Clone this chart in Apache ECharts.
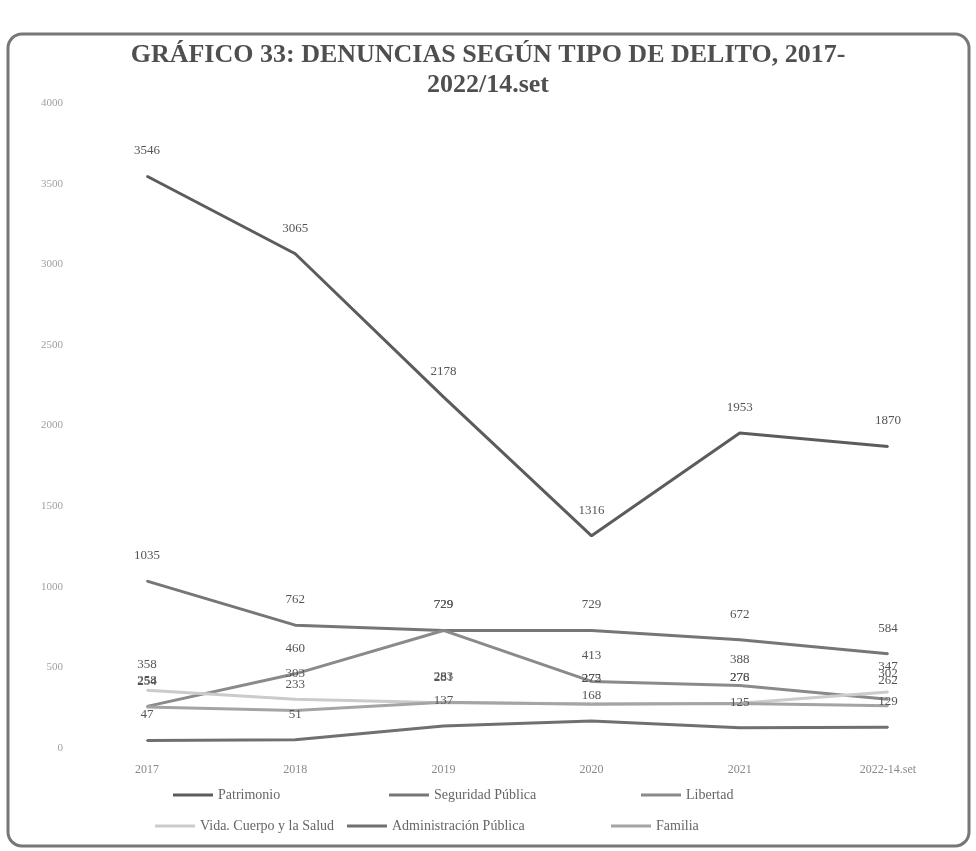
<!DOCTYPE html>
<html>
<head>
<meta charset="utf-8">
<script src="https://cdn.jsdelivr.net/npm/echarts@6/dist/echarts.min.js"></script>
<style>
    html, body { margin: 0; padding: 0; background: #fff; }
    #chart { width: 976px; height: 851px; }
</style>
</head>
<body>
<div id="chart"></div>
<script>
// --- Data ---
const years = ['2017', '2018', '2019', '2020', '2021', '2022-14.set'];
const yTicks = { min: 0, max: 4000, step: 500 };

const patrimonio = [3546, 3065, 2178, 1316, 1953, 1870];
const seguridadPublica = [1035, 762, 729, 729, 672, 584];
const libertad = [258, 460, 729, 413, 388, 302];
const vidaCuerpoSalud = [358, 303, 281, 275, 278, 347];
const administracionPublica = [47, 51, 137, 168, 125, 129];
const familia = [254, 233, 283, 272, 276, 262];

const serif = '"Liberation Serif", "DejaVu Serif", serif';

const seriesDefs = [
    { name: 'Patrimonio', data: patrimonio, color: '#5c5c5c', legend: [168, 783] },
    { name: 'Seguridad Pública', data: seguridadPublica, color: '#767676', legend: [384, 783] },
    { name: 'Libertad', data: libertad, color: '#8a8a8a', legend: [636, 783] },
    { name: 'Vida. Cuerpo y la Salud', data: vidaCuerpoSalud, color: '#cbcbcb', legend: [150, 814] },
    { name: 'Administración Pública', data: administracionPublica, color: '#707070', legend: [342, 814] },
    { name: 'Familia', data: familia, color: '#a4a4a4', legend: [606, 814] }
];

const chart = echarts.init(document.getElementById('chart'));

const option = {
    backgroundColor: '#ffffff',
    animation: false,
    title: {
        text: 'GRÁFICO 33: DENUNCIAS SEGÚN TIPO DE DELITO, 2017-\n2022/14.set',
        left: 'center',
        top: 35,
        textStyle: {
            fontFamily: serif,
            fontWeight: 'bold',
            fontSize: 26,
            lineHeight: 30,
            color: '#4f4f4f'
        }
    },
    // one legend per item so the two rows line up like the original
    legend: seriesDefs.map(s => ({
        data: [s.name],
        left: s.legend[0],
        top: s.legend[1],
        itemWidth: 40,
        itemHeight: 3,
        itemGap: 4,
        icon: 'rect',
        itemStyle: { color: s.color, opacity: 1 },
        textStyle: { fontFamily: serif, fontSize: 14, color: '#666' }
    })),
    grid: { left: 73, right: 14, top: 103, bottom: 103 },
    xAxis: {
        type: 'category',
        data: years,
        boundaryGap: true,
        axisLine: { show: false },
        axisTick: { show: false },
        axisLabel: { fontFamily: serif, fontSize: 12, color: '#8a8a8a', margin: 16 }
    },
    yAxis: {
        type: 'value',
        min: yTicks.min,
        max: yTicks.max,
        interval: yTicks.step,
        axisLine: { show: false },
        axisTick: { show: false },
        splitLine: { show: false },
        axisLabel: {
            fontFamily: serif,
            fontSize: 11,
            color: '#a0a0a0',
            margin: 10,
            formatter: v => String(v)
        }
    },
    graphic: [{
        type: 'rect',
        shape: { x: 8, y: 34, width: 961, height: 812, r: 14 },
        style: { fill: 'none', stroke: '#777', lineWidth: 3 },
        silent: true
    }],
    series: seriesDefs.map(s => ({
        name: s.name,
        type: 'line',
        data: s.data,
        symbol: 'circle',
        symbolSize: 2,
        showSymbol: true,
        itemStyle: { color: s.color },
        lineStyle: { color: s.color, width: 3 },
        label: {
            show: true,
            position: 'top',
            distance: 18,
            fontFamily: serif,
            fontSize: 13,
            color: '#555'
        }
    }))
};

chart.setOption(option);
</script>
</body>
</html>
